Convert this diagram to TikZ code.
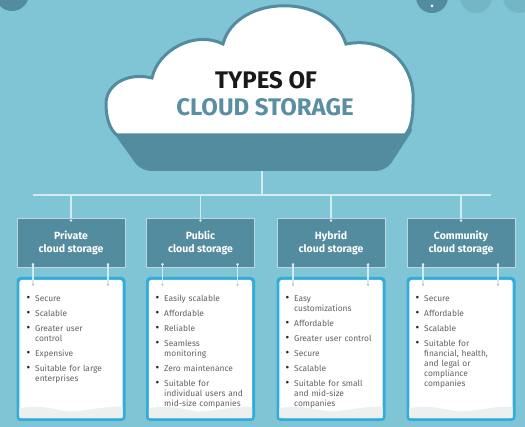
\documentclass[tikz,border=0pt]{standalone}
\usepackage{fontspec}
\setmainfont{Fira Sans}
\usepackage{enumitem}
\definecolor{bgc}{HTML}{7FC5D6}
\definecolor{teal}{HTML}{538B9F}
\definecolor{linec}{HTML}{D2EBF2}
\definecolor{bright}{HTML}{33ACDA}
\definecolor{txtgray}{HTML}{626262}
\definecolor{wavec}{HTML}{EDF0F1}
\definecolor{titleblue}{HTML}{5A8FA3}
\definecolor{btnlight}{HTML}{74B6C6}
\setlist[itemize]{label={\color{black!85}\scalebox{1.35}{\textbullet}}, leftmargin=11pt, labelsep=5pt, itemsep=5pt, topsep=0pt, parsep=0pt, partopsep=0pt}
\tikzset{
  conn/.style={draw=linec, line width=1.2pt},
  hdr/.style={draw=linec!80!teal, line width=0.8pt, fill=teal, minimum width=108pt, minimum height=49pt, inner sep=0pt, text=white, align=center, font=\fontsize{10.5}{13}\selectfont\bfseries},
  cbox/.style={fill=bright, rounded corners=4pt, minimum width=109pt, minimum height=144pt, inner sep=0pt},
  listtxt/.style={anchor=north west, inner sep=0pt, text width=95pt, align=left, text=txtgray, font=\fontsize{8.4}{10}\selectfont},
  dotc/.style={fill=linec, draw=none},
  ttl/.style={font=\fontsize{24}{27}\selectfont\bfseries},
}
\newcommand{\contentpaper}[1]{%
  \fill[white, rounded corners=3pt] ([xshift=3pt,yshift=-3pt]#1.north west) rectangle ([xshift=-3pt,yshift=3pt]#1.south east);
  \fill[wavec] ([xshift=3pt,yshift=3pt]#1.south west) -- ([xshift=3pt,yshift=13pt]#1.south west)
     .. controls ([xshift=30pt,yshift=18pt]#1.south west) and ([xshift=45pt,yshift=8pt]#1.south west) .. ([xshift=60pt,yshift=10pt]#1.south west)
     .. controls ([xshift=80pt,yshift=12pt]#1.south west) and ([xshift=95pt,yshift=16pt]#1.south west) .. ([xshift=-3pt,yshift=14pt]#1.south east)
     -- ([xshift=-3pt,yshift=3pt]#1.south east) -- cycle;
}
\begin{document}
\begin{tikzpicture}[x=1pt,y=-1pt]
\useasboundingbox (0,0) rectangle (525,427);
\fill[bgc] (0,0) rectangle (525,427);
% screenshot buttons
\fill[teal] (12,-6) circle (17);
\fill[teal] (432,-3) circle (16);
\fill[white] (432,6) circle (1.5);
\fill[btnlight] (476,-3) circle (16);
\fill[btnlight] (519,-3) circle (16);
% cloud shadow band
\fill[teal, rounded corners=10pt] (108,125) -- (141,171) -- (386,171) -- (416,125) -- cycle;
% cloud
\draw[teal, line width=3pt, fill=white] (117,135) .. controls (110,130) and (106,118) .. (106,104)
  .. controls (106,84) and (128,72) .. (152,78)
  .. controls (158,50) and (195,30) .. (223,44)
  .. controls (236,-6) and (330,-8) .. (346,44)
  .. controls (388,36) and (416,66) .. (413,104)
  .. controls (413,120) and (410,130) .. (405,135) -- cycle;
\node[ttl, text=black!90] (t1) at (266,80) {TYPES OF};
\node[ttl, text=titleblue] (t2) at (265,107) {CLOUD STORAGE};
% connectors
\coordinate (cb) at (262,171);
\coordinate (hl) at (33,195);
\coordinate (hr) at (491,195);
\draw[conn] (cb) -- (cb |- hl);
\draw[conn] (hl) -- (hr);
% headers
\node[hdr] (h1) at (71,242.5) {Private\\cloud storage};
\node[hdr] (h2) at (200.5,242.5) {Public\\cloud storage};
\node[hdr] (h3) at (331,242.5) {Hybrid\\cloud storage};
\node[hdr] (h4) at (461,242.5) {Community\\cloud storage};
% content boxes
\node[cbox] (c1) at (71,349) {};
\node[cbox] (c2) at (200.5,349) {};
\node[cbox] (c3) at (331,349) {};
\node[cbox] (c4) at (461,349) {};
\contentpaper{c1}\contentpaper{c2}\contentpaper{c3}\contentpaper{c4}
\foreach \n in {1,2,3,4}{
  \draw[conn] (h\n.north |- hl) -- (h\n.north);
  \fill[dotc] ([yshift=-3pt]h\n.north) circle (1.4);
  \draw[conn] ([xshift=-38pt,yshift=3pt]h\n.south) -- ([xshift=-38pt,yshift=-8pt]c\n.north);
  \draw[conn] ([xshift=37pt,yshift=3pt]h\n.south) -- ([xshift=37pt,yshift=-8pt]c\n.north);
  \fill[dotc] ([xshift=-38pt,yshift=3pt]h\n.south) circle (1.4);
  \fill[dotc] ([xshift=37pt,yshift=3pt]h\n.south) circle (1.4);
  \fill[black!25] ([xshift=-38pt,yshift=-8pt]c\n.north) circle (1.2);
  \fill[black!25] ([xshift=37pt,yshift=-8pt]c\n.north) circle (1.2);
}
% lists
\node[listtxt] (l1) at (24,291) {\begin{itemize}
\item Secure
\item Scalable
\item Greater user\\control
\item Expensive
\item Suitable for large\\enterprises
\end{itemize}};
\node[listtxt] (l2) at (153,291) {\begin{itemize}
\item Easily scalable
\item Affordable
\item Reliable
\item Seamless\\monitoring
\item Zero maintenance
\item Suitable for\\individual users and\\mid-size companies
\end{itemize}};
\node[listtxt] (l3) at (283,291) {\begin{itemize}
\item Easy\\customizations
\item Affordable
\item Greater user control
\item Secure
\item Scalable
\item Suitable for small\\and mid-size\\companies
\end{itemize}};
\node[listtxt] (l4) at (413,291) {\begin{itemize}
\item Secure
\item Affordable
\item Scalable
\item Suitable for\\financial, health,\\and legal or\\compliance\\companies
\end{itemize}};
\end{tikzpicture}
\end{document}
